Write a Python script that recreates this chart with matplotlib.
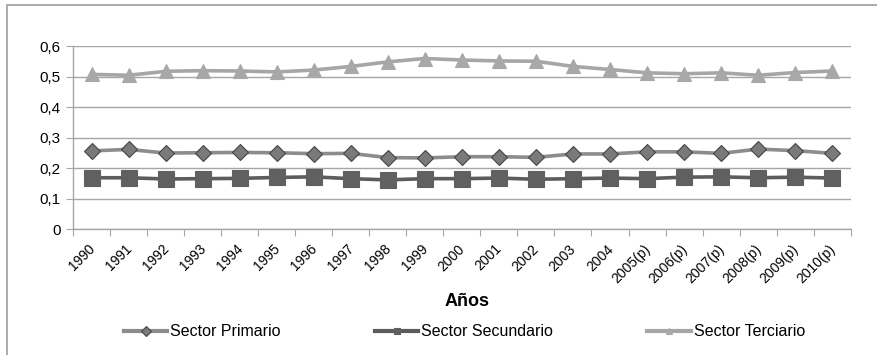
"""Participacion sectorial 1990-2010 (serie en escala de grises)."""

import matplotlib

matplotlib.use("Agg")
import matplotlib.pyplot as plt
from matplotlib.lines import Line2D
from matplotlib.patches import Rectangle
from matplotlib.transforms import ScaledTranslation

years = ["1990", "1991", "1992", "1993", "1994", "1995", "1996", "1997",
         "1998", "1999", "2000", "2001", "2002", "2003", "2004", "2005(p)",
         "2006(p)", "2007(p)", "2008(p)", "2009(p)", "2010(p)"]
primario = [0.257, 0.262, 0.250, 0.251, 0.252, 0.251, 0.248, 0.249, 0.235,
            0.234, 0.238, 0.238, 0.236, 0.247, 0.247, 0.254, 0.254, 0.249,
            0.263, 0.258, 0.249]
secundario = [0.169, 0.169, 0.165, 0.166, 0.167, 0.170, 0.172, 0.166, 0.162,
              0.166, 0.166, 0.168, 0.164, 0.166, 0.168, 0.166, 0.171, 0.172,
              0.169, 0.171, 0.168]
terciario = [0.508, 0.505, 0.518, 0.520, 0.519, 0.516, 0.522, 0.534, 0.549,
             0.560, 0.555, 0.552, 0.551, 0.534, 0.524, 0.513, 0.510, 0.513,
             0.505, 0.514, 0.519]
yticks = [0, 0.1, 0.2, 0.3, 0.4, 0.5, 0.6]
ytick_labels = ["0", "0,1", "0,2", "0,3", "0,4", "0,5", "0,6"]
series_names = ["Sector Primario", "Sector Secundario", "Sector Terciario"]

plt.rcParams["font.family"] = ["Liberation Sans", "DejaVu Sans"]

W, H = 878, 355
fig = plt.figure(figsize=(W / 100, H / 100), dpi=100)
fig.patches.append(Rectangle((7 / W, -0.1), 1.2, (H - 5) / H + 0.1,
                             transform=fig.transFigure, fill=False,
                             edgecolor="#a6a6a6", linewidth=1.3))
ax = fig.add_axes([73 / W, 1 - 229.3 / H, (850.7 - 73) / W, (229.3 - 46.3) / H])

styles = [
    dict(color="#8c8c8c", marker="D", mfc="#7a7a7a", mec="#454545", mew=0.8),
    dict(color="#5c5c5c", marker="s", mfc="#606060", mec="#606060", mew=0.8),
    dict(color="#a6a6a6", marker="^", mfc="#a8a8a8", mec="#a8a8a8", mew=0.8),
]
sizes = [8, 11, 10.5]

xs = list(range(len(years)))
for values, style, size in zip([primario, secundario, terciario], styles, sizes):
    ax.plot(xs, values, linewidth=2.6, markersize=size, zorder=3, **style)

ax.set_xlim(-0.5, len(years) - 0.5)
ax.set_ylim(0, 0.6)
ax.set_yticks(yticks)
ax.set_yticklabels(ytick_labels, fontsize=11)
ax.yaxis.grid(True, color="#a6a6a6", linewidth=1.0)
ax.set_axisbelow(True)
ax.tick_params(axis="y", length=5, color="#a6a6a6", pad=4)

ax.set_xticks([i - 0.5 for i in range(len(years) + 1)])
ax.set_xticklabels([])
ax.set_xticks(xs, minor=True)
ax.set_xticklabels(years, minor=True, rotation=45, ha="right", va="top",
                   rotation_mode="anchor", fontsize=10)
ax.tick_params(axis="x", which="major", length=5, color="#a6a6a6")
ax.tick_params(axis="x", which="minor", length=0, pad=9)
shift = ScaledTranslation(-4 / 100, 0, fig.dpi_scale_trans)
for lbl in ax.get_xticklabels(minor=True):
    lbl.set_transform(lbl.get_transform() + shift)

for side in ("top", "right"):
    ax.spines[side].set_visible(False)
for side in ("left", "bottom"):
    ax.spines[side].set_color("#a6a6a6")
    ax.spines[side].set_linewidth(1.0)

fig.text(467 / W, 1 - 302 / H, "Años", ha="center", va="center",
         fontsize=13, fontweight="bold")

handles = [Line2D([], [], linewidth=3.0, markersize=5, **style)
           for style in styles]
fig.legend(handles, series_names, loc="center left",
           bbox_to_anchor=(124 / W, 1 - 332 / H), ncol=3, frameon=False,
           fontsize=11.5, borderpad=0, borderaxespad=0, handlelength=2.7,
           handletextpad=0.2, columnspacing=5.9)

fig.savefig("out.png", dpi=100)
